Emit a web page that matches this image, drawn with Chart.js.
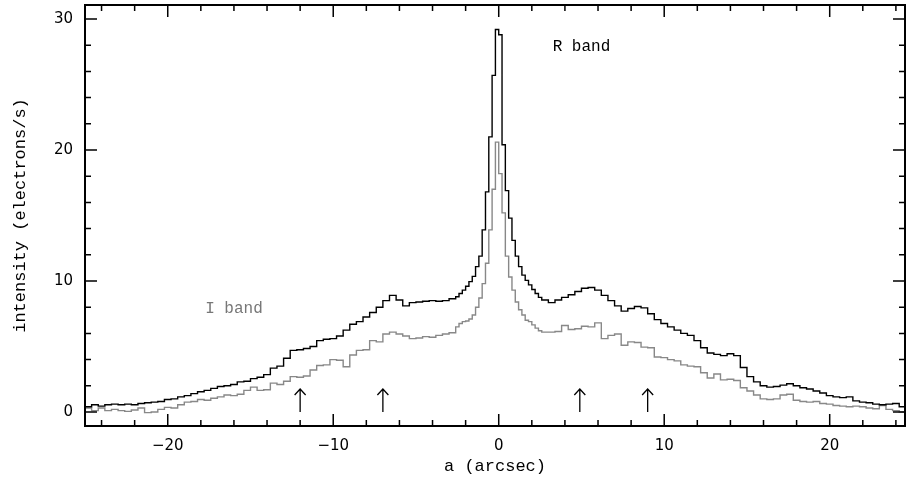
<!DOCTYPE html>
<html>
<head>
<meta charset="utf-8">
<script src="https://cdn.jsdelivr.net/npm/chart.js@4.4.1/dist/chart.umd.min.js"></script>
<style>
  html, body { margin: 0; padding: 0; background: #fff; }
  canvas { display: block; }
</style>
</head>
<body>
<canvas id="perfil" width="906" height="486"></canvas>
<script>
// bins: left wing 0.4", core 0.2", right wing 0.4"
const leftStart = -25.0, coreStart = -2.6, rightStart = 2.6;
const wingStep = 0.4, coreStep = 0.2;

const rLeft = [0.4, 0.55, 0.45, 0.55, 0.6, 0.55, 0.6, 0.55, 0.65, 0.7,
  0.75, 0.8, 0.95, 1.0, 1.15, 1.25, 1.4, 1.55, 1.65, 1.8,
  1.95, 2.0, 2.1, 2.3, 2.35, 2.55, 2.65, 2.85, 3.35, 3.5,
  4.1, 4.7, 4.75, 4.85, 5.0, 5.45, 5.55, 5.6, 5.8, 6.25,
  6.7, 6.9, 7.25, 7.6, 8.0, 8.5, 8.9, 8.55, 8.1, 8.35,
  8.4, 8.45, 8.5, 8.45, 8.5, 8.65];
const rCore = [8.8, 9.05, 9.3, 9.6, 9.95, 10.35, 11.1, 11.9, 13.9, 16.8,
  21.0, 25.7, 29.2, 28.8, 20.4, 16.9, 14.8, 13.1, 11.9, 11.1,
  10.45, 10.05, 9.7, 9.35, 9.05, 8.75];
const rRight = [8.55, 8.35, 8.55, 8.75, 8.95, 9.2, 9.45, 9.5, 9.3, 8.9,
  8.5, 8.1, 7.7, 7.9, 8.05, 7.95, 7.5, 7.05, 6.75, 6.5,
  6.25, 6.0, 5.85, 5.45, 4.9, 4.5, 4.4, 4.3, 4.45, 4.3,
  3.4, 2.7, 2.3, 2.0, 1.9, 1.95, 2.05, 2.15, 2.0, 1.85,
  1.75, 1.6, 1.45, 1.25, 1.15, 1.1, 1.15, 0.85, 0.75, 0.7,
  0.6, 0.55, 0.6, 0.65, 0.4];

const iLeft = [0.3, 0.1, 0.3, 0.1, 0.2, 0.1, 0.05, 0.15, 0.3, -0.05,
  0.0, 0.2, 0.35, 0.3, 0.55, 0.75, 0.8, 0.95, 0.9, 1.05,
  1.15, 1.3, 1.25, 1.35, 1.65, 1.9, 1.65, 1.7, 2.2, 2.1,
  2.35, 2.7, 2.65, 2.75, 3.2, 3.55, 3.6, 4.0, 3.95, 3.45,
  4.35, 4.7, 4.75, 5.45, 5.35, 5.95, 6.1, 5.95, 5.8, 5.6,
  5.65, 5.75, 5.7, 5.85, 5.95, 6.05];
const iCore = [6.5, 6.75, 6.9, 6.95, 7.1, 7.4, 8.0, 8.7, 9.8, 11.35,
  13.9, 17.0, 20.6, 18.2, 15.2, 11.9, 10.3, 9.3, 8.4, 7.8,
  7.4, 7.0, 6.9, 6.65, 6.4, 6.2];
const iRight = [6.1, 6.1, 6.15, 6.6, 6.3, 6.35, 6.55, 6.5, 6.8, 5.6,
  5.85, 5.95, 5.1, 5.35, 5.3, 4.95, 4.9, 4.2, 4.15, 4.0,
  3.9, 3.6, 3.5, 3.45, 3.0, 2.6, 2.9, 2.45, 2.5, 2.4,
  1.85, 1.6, 1.3, 1.0, 0.95, 1.0, 1.3, 1.35, 0.9, 0.8,
  0.75, 0.8, 0.65, 0.6, 0.5, 0.45, 0.4, 0.45, 0.4, 0.3,
  0.25, 0.5, 0.2, 0.1, 0.0];

const xMajor = [-20, -10, 0, 10, 20];
const yMajor = [0, 10, 20, 30];
const arrowsAt = [-12.0, -7.0, 4.9, 9.0];
const arrowTip = 1.75;
const etiquetas = [
  { text: 'R band', x: 5.0, y: 27.9, color: '#000' },
  { text: 'I band', x: -16.0, y: 7.9, color: '#777' }
];

function histo(left, core, right) {
  const pts = [];
  left.forEach((v, k) => pts.push({ x: +(leftStart + k * wingStep).toFixed(2), y: v }));
  core.forEach((v, k) => pts.push({ x: +(coreStart + k * coreStep).toFixed(2), y: v }));
  right.forEach((v, k) => pts.push({ x: +(rightStart + k * wingStep).toFixed(2), y: v }));
  pts.push({ x: +(rightStart + right.length * wingStep).toFixed(2), y: right[right.length - 1] });
  return pts;
}

const marcas = {
  id: 'marcas',
  afterDatasetsDraw(chart) {
    const { ctx, chartArea: a, scales: { x, y } } = chart;
    ctx.save();
    ctx.strokeStyle = '#000';
    ctx.lineWidth = 1.5;
    // ticks on all four sides, pointing inward
    for (let v = -24; v <= 24; v += 2) {
      const px = x.getPixelForValue(v);
      const len = xMajor.includes(v) ? 12 : 6;
      ctx.beginPath();
      ctx.moveTo(px, a.bottom); ctx.lineTo(px, a.bottom - len);
      ctx.moveTo(px, a.top); ctx.lineTo(px, a.top + len);
      ctx.stroke();
    }
    for (let v = 0; v <= 30; v += 2) {
      const py = y.getPixelForValue(v);
      const len = yMajor.includes(v) ? 12 : 6;
      ctx.beginPath();
      ctx.moveTo(a.left, py); ctx.lineTo(a.left + len, py);
      ctx.moveTo(a.right, py); ctx.lineTo(a.right - len, py);
      ctx.stroke();
    }
    ctx.lineWidth = 2;
    ctx.strokeRect(a.left, a.top, a.right - a.left, a.bottom - a.top);

    // arrows
    ctx.lineWidth = 1.3;
    arrowsAt.forEach(v => {
      const px = x.getPixelForValue(v);
      const p0 = y.getPixelForValue(0);
      const p1 = y.getPixelForValue(arrowTip);
      ctx.beginPath();
      ctx.moveTo(px, p0); ctx.lineTo(px, p1);
      ctx.moveTo(px - 5.5, p1 + 6); ctx.lineTo(px, p1); ctx.lineTo(px + 5.5, p1 + 6);
      ctx.stroke();
    });

    ctx.font = '16px "Liberation Mono", monospace';
    ctx.textAlign = 'center';
    ctx.textBaseline = 'middle';
    etiquetas.forEach(e => {
      ctx.fillStyle = e.color;
      ctx.fillText(e.text, x.getPixelForValue(e.x), y.getPixelForValue(e.y));
    });
    ctx.restore();
  }
};

new Chart(document.getElementById('perfil'), {
  type: 'line',
  data: {
    datasets: [
      {
        label: 'R band',
        data: histo(rLeft, rCore, rRight),
        stepped: true,
        borderColor: '#000',
        borderWidth: 1.4,
        pointRadius: 0,
        fill: false
      },
      {
        label: 'I band',
        data: histo(iLeft, iCore, iRight),
        stepped: true,
        borderColor: '#888',
        borderWidth: 1.4,
        pointRadius: 0,
        fill: false
      }
    ]
  },
  options: {
    responsive: false,
    animation: false,
    devicePixelRatio: 1,
    layout: { padding: { top: 5, right: 1, left: 0, bottom: 0 } },
    plugins: { legend: { display: false }, tooltip: { enabled: false } },
    scales: {
      x: {
        type: 'linear',
        min: -25,
        max: 24.55,
        grid: { display: false, drawTicks: false },
        border: { display: false },
        afterBuildTicks: s => { s.ticks = xMajor.map(v => ({ value: v })); },
        afterFit: s => { s.height = 60; s.paddingLeft = 0; s.paddingRight = 0; },
        ticks: {
          padding: 11,
          color: '#000',
          font: { family: 'DejaVu Sans', size: 15 },
          callback: v => String(v).replace('-', '\u2212')
        },
        title: {
          display: true,
          text: 'a (arcsec)',
          color: '#000',
          font: { family: 'Liberation Mono', size: 17 },
          padding: { top: 0, bottom: 9 }
        }
      },
      y: {
        min: -1.07,
        max: 31.07,
        grid: { display: false, drawTicks: false },
        border: { display: false },
        afterBuildTicks: s => { s.ticks = yMajor.map(v => ({ value: v })); },
        afterFit: s => { s.width = 85; s.paddingTop = 0; s.paddingBottom = 0; },
        ticks: {
          padding: 12,
          color: '#000',
          font: { family: 'DejaVu Sans', size: 15 }
        },
        title: {
          display: true,
          text: 'intensity (electrons/s)',
          color: '#000',
          font: { family: 'Liberation Mono', size: 17 },
          padding: { top: 10, bottom: 0 }
        }
      }
    }
  },
  plugins: [marcas]
});
</script>
</body>
</html>
